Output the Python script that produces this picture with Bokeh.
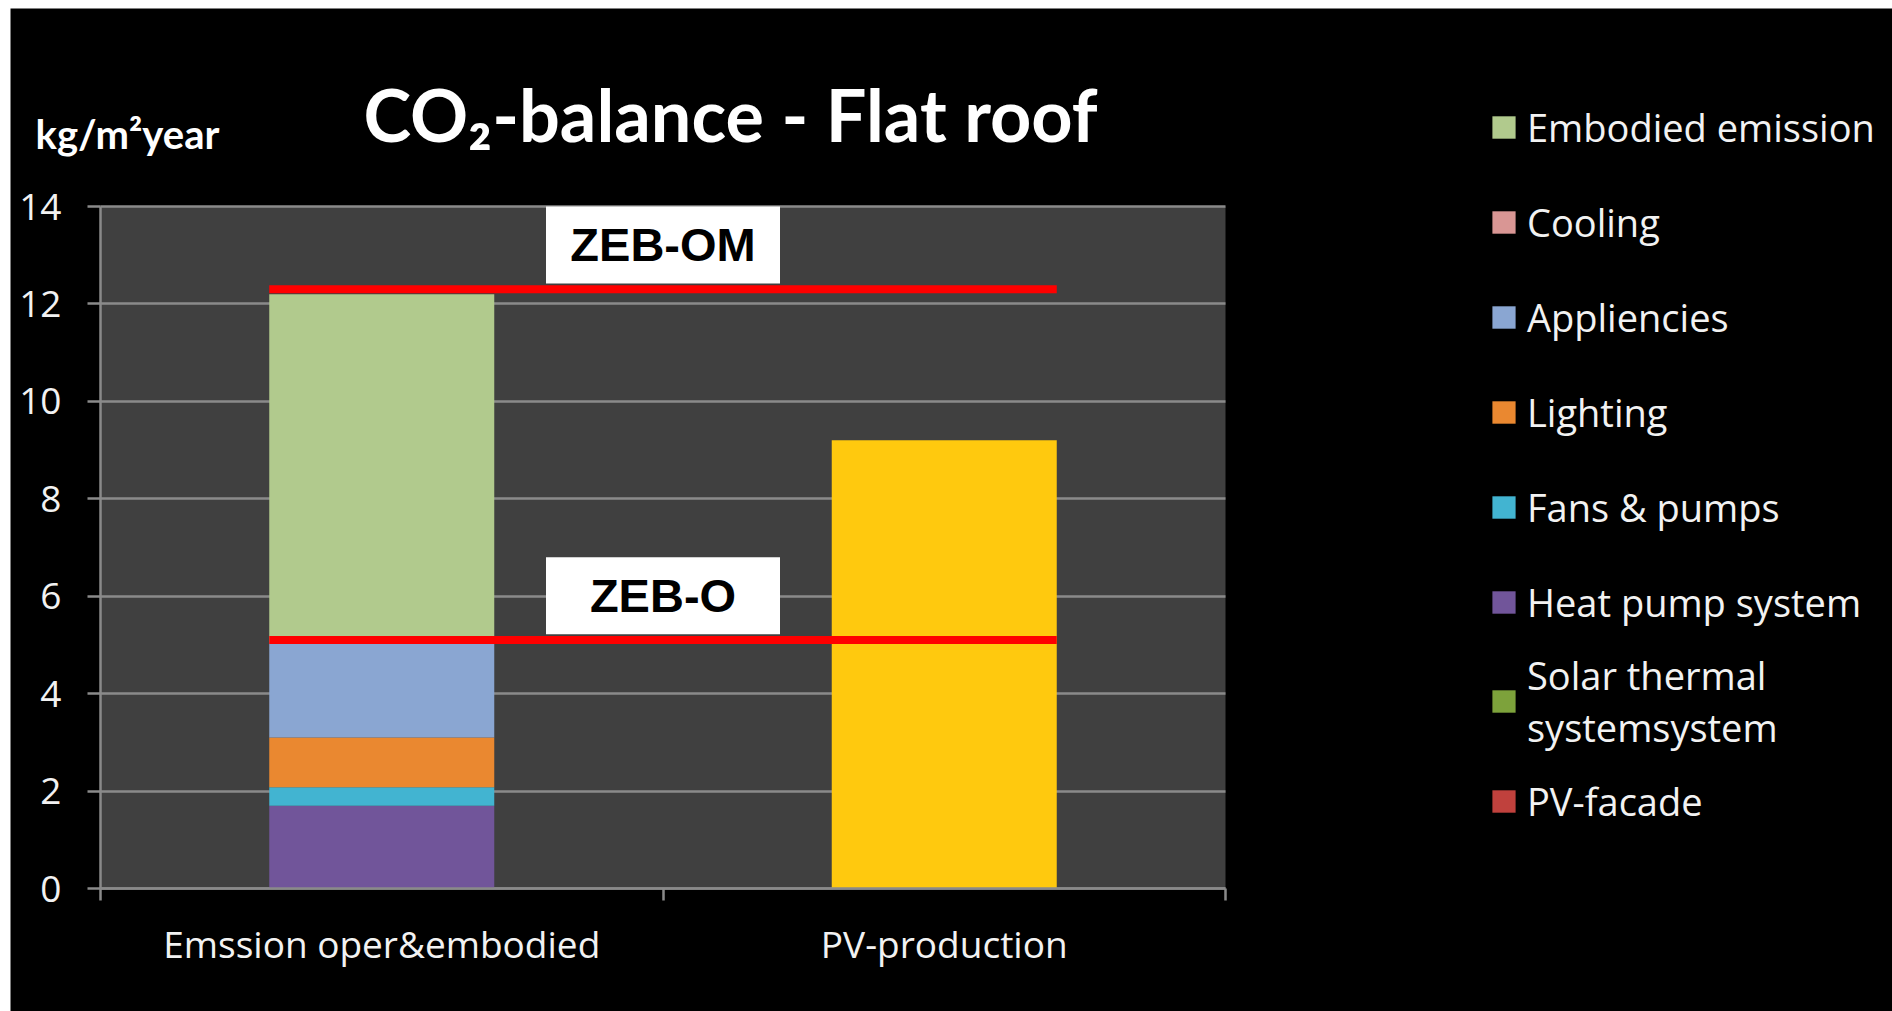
from bokeh.plotting import figure
from bokeh.models import (Range1d, LinearAxis, FixedTicker, Grid, BoxAnnotation,
                          Legend, LegendItem, Label, ColumnDataSource)
from bokeh.core.properties import value
from bokeh.embed import file_html
from bokeh.resources import INLINE

# ---------------- data ----------------
categories = ["Emssion oper&embodied", "PV-production"]
# stack order bottom -> top
components = ["PV-facade", "Solar thermal\nsystemsystem", "Heat pump system", "Fans & pumps",
              "Lighting", "Appliencies", "Cooling", "Embodied emission"]
component_values = [0.0, 0.0, 1.70, 0.38, 1.02, 1.95, 0.0, 7.15]
pv_production = [9.2]
zeb_names = ["ZEB-OM", "ZEB-O"]
zeb_levels = [12.3, 5.1]
y_ticks = [0, 2, 4, 6, 8, 10, 12, 14]
title_text = "CO₂-balance - Flat roof"
unit_text = "kg/m²year"

# ---------------- style / layout ----------------
colors = ["#c0413d", "#7da23b", "#71559a", "#42b4d1", "#ea8830", "#8aa6d2", "#d99694", "#b1ca8d"]
pv_color = "#ffc90e"
bar_w = 0.4
grid_col = "#8a8a8a"
txt_col = "#f2f2f2"

n = len(categories)
cat_pos = [i + 0.5 for i in range(n)]
edge_ticks = list(range(n + 1))
y_top = y_ticks[-1]

W, H = 1882, 1003          # canvas (page offset 10, 8); the frame covers the whole canvas
ZERO_PX = 880               # canvas px (from top) of y = 0
PX_X = 562.5                # px per category
PX_Y = 682 / y_top          # px per unit
X0_PX = 90                  # canvas px of x = 0
x_start = -X0_PX / PX_X
x_end = x_start + W / PX_X
y_start = -(H - ZERO_PX) / PX_Y
y_end = ZERO_PX / PX_Y


def sx(px_canvas):  # canvas px -> data x
    return (px_canvas - X0_PX) / PX_X


def sy(px_canvas):  # canvas px (from top) -> data y
    return (ZERO_PX - px_canvas) / PX_Y


p = figure(width=W, height=H, margin=(8, 0, 0, 10),
           x_range=Range1d(x_start, x_end), y_range=Range1d(y_start, y_end),
           output_backend="svg", toolbar_location=None,
           x_axis_location=None, y_axis_location=None,
           min_border_left=0, min_border_top=0, min_border_right=0, min_border_bottom=0,
           background_fill_color="black", border_fill_color="black", outline_line_color=None)

# dark plot area
p.add_layout(BoxAnnotation(left=0, right=n, bottom=0, top=y_top, fill_color="#404040",
                           fill_alpha=1, line_color=None, level="image"))

p.xgrid.visible = False
if "cross_bounds" in Grid.properties():
    p.ygrid.ticker = FixedTicker(ticks=y_ticks)
    p.ygrid.bounds = (y_ticks[0] - 0.01, y_top + 0.01)
    p.ygrid.cross_bounds = (0, n)
    p.ygrid.grid_line_color = grid_col
    p.ygrid.grid_line_width = 2.5
else:
    p.ygrid.visible = False
    p.segment(x0=[0] * len(y_ticks), x1=[n] * len(y_ticks), y0=y_ticks, y1=y_ticks,
              line_color=grid_col, line_width=2.5, level="underlay")

yaxis = LinearAxis(ticker=FixedTicker(ticks=y_ticks), fixed_location=0, bounds=(0, y_top),
                   major_tick_out=13, major_tick_in=0,
                   minor_tick_line_color=None, axis_line_color=grid_col, axis_line_width=2.5,
                   major_tick_line_color=grid_col, major_tick_line_width=2.5,
                   major_label_text_color=txt_col, major_label_text_font="Open Sans",
                   major_label_text_font_size="37px", major_label_standoff=26)
p.add_layout(yaxis, "left")

edge_axis = LinearAxis(ticker=FixedTicker(ticks=edge_ticks), fixed_location=0, bounds=(0, n),
                       major_tick_out=12, major_tick_in=0, minor_tick_line_color=None,
                       axis_line_color=grid_col, axis_line_width=2.5,
                       major_tick_line_color=grid_col, major_tick_line_width=2.5,
                       major_label_overrides={t: "" for t in edge_ticks},
                       major_label_standoff=0, major_label_text_font_size="10px")
p.add_layout(edge_axis, "below")
cat_axis = LinearAxis(ticker=FixedTicker(ticks=cat_pos), fixed_location=0,
                      major_label_overrides={pos: c for pos, c in zip(cat_pos, categories)},
                      major_tick_line_color=None, minor_tick_line_color=None, axis_line_color=None,
                      major_tick_out=0, major_tick_in=0,
                      major_label_text_color=txt_col, major_label_text_font="Open Sans",
                      major_label_text_font_size="37px", major_label_standoff=29)
p.add_layout(cat_axis, "below")

# stacked bar
src = ColumnDataSource(dict(x=[cat_pos[0]], **{f"s{i}": [v] for i, v in enumerate(component_values)}))
stackers = [f"s{i}" for i in range(len(components))]
rends = p.vbar_stack(stackers, x="x", width=bar_w, color=colors, source=src, line_color=None)

# PV production bar
p.vbar(x=[cat_pos[1]], top=pv_production, width=bar_w, color=pv_color, line_color=None)

# ZEB lines + labels
x_left = cat_pos[0] - bar_w / 2
x_right = cat_pos[-1] + bar_w / 2
zsrc = ColumnDataSource(dict(x0=[x_left] * len(zeb_levels), x1=[x_right] * len(zeb_levels),
                             y=zeb_levels, name=zeb_names,
                             yc=[v + 0.91 for v in zeb_levels], xc=[n / 2] * len(zeb_levels)))
p.segment(x0="x0", x1="x1", y0="y", y1="y", source=zsrc, line_color="#ff0000", line_width=8)
p.rect(x="xc", y="yc", width=0.416, height=1.58, source=zsrc, fill_color="white", line_color=None)
p.text(x="xc", y="yc", text="name", source=zsrc, text_font=value("Liberation Sans"),
       text_font_style="bold", text_font_size="47px", text_color="black",
       text_align="center", text_baseline="middle")

# legend (reverse order, top of stack first); legend location is frame-relative (bottom-left)
items = [LegendItem(label=nm, renderers=[r]) for nm, r in reversed(list(zip(components, rends)))]
legend = Legend(items=items, location=(1479, 123 + 40), orientation="vertical",
                glyph_width=29, glyph_height=28, label_standoff=9,
                label_text_font="Open Sans", label_text_font_size="38px", label_text_color=txt_col,
                label_height=95, spacing=0, padding=0, margin=0,
                background_fill_alpha=0, border_line_alpha=0)
p.add_layout(legend)

# title & unit
p.add_layout(Label(x=sx(720), y=sy(105), text=title_text,
                   text_font="Lato", text_font_style="bold", text_font_size="72px",
                   text_color="white", text_align="center", text_baseline="alphabetic"))
p.add_layout(Label(x=sx(25), y=sy(125), text=unit_text,
                   text_font="Lato", text_font_style="bold", text_font_size="40px",
                   text_color="white", text_align="left", text_baseline="alphabetic"))

open("out.html", "w").write(file_html(p, INLINE))
